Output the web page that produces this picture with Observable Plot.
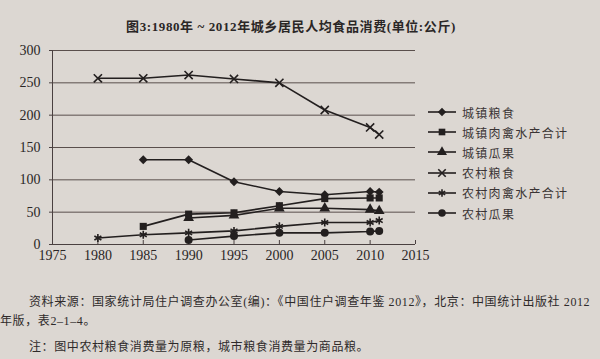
<!DOCTYPE html>
<html><head><meta charset="utf-8">
<script src="https://cdn.jsdelivr.net/npm/d3@7"></script>
<script src="https://cdn.jsdelivr.net/npm/@observablehq/plot@0.6"></script>
<style>
html,body{margin:0;padding:0;}
body{width:600px;height:359px;background:#dcd7d2;position:relative;overflow:hidden;font-family:"Liberation Serif","Noto Sans CJK SC",serif;color:#2a2626;}
#title{position:absolute;left:0;top:18px;width:582px;text-align:center;font-size:13px;font-weight:bold;white-space:nowrap;line-height:18px;letter-spacing:0.6px;}
#chart{position:absolute;left:0;top:40px;}
#legend{position:absolute;left:428px;top:102px;}
.row{display:flex;align-items:center;height:20.2px;}
.row span{margin-left:6px;font-family:"Noto Sans CJK SC",sans-serif;font-size:12px;letter-spacing:1.3px;color:#3a3434;}
.cap{position:absolute;white-space:nowrap;font-size:12px;line-height:16px;letter-spacing:0.6px;color:#2e2a2a;}
</style></head>
<body>
<div id="title"></div>
<div id="chart"></div>
<div id="legend"></div>
<div class="cap" id="c1" style="left:29px;top:294px;"></div>
<div class="cap" id="c2" style="left:0px;top:313px;"></div>
<div class="cap" id="c3" style="left:29px;top:339px;"></div>
<script>
const titleText = "图3:1980年 ~ 2012年城乡居民人均食品消费(单位:公斤)";
const captionLines = [
  "资料来源：国家统计局住户调查办公室(编)：《中国住户调查年鉴 2012》，北京：中国统计出版社 2012",
  "年版，表2–1–4。",
  "注：图中农村粮食消费量为原粮，城市粮食消费量为商品粮。"
];
const years = [1980, 1985, 1990, 1995, 2000, 2005, 2010, 2011];
const seriesNames = ["城镇粮食", "城镇肉禽水产合计", "城镇瓜果", "农村粮食", "农村肉禽水产合计", "农村瓜果"];
const seriesSymbols = ["diamond2", "square", "triangle", "times", "asterisk", "circle"];
const urbanGrain = [null, 131, 131, 97, 82, 77, 82, 81];
const urbanMeat  = [null, 28, 47, 49, 60, 71, 72, 72];
const urbanFruit = [null, null, 41, 45, 56, 56, 54, 52];
const ruralGrain = [257, 257, 262, 256, 250, 208, 181, 170];
const ruralMeat  = [10, 15, 18, 21, 28, 34, 34, 37];
const ruralFruit = [null, null, 7, 13, 18, 18, 20, 21];
const xTicks = [1975, 1980, 1985, 1990, 1995, 2000, 2005, 2010, 2015];
const yTicks = [0, 50, 100, 150, 200, 250, 300];

const seriesValues = [urbanGrain, urbanMeat, urbanFruit, ruralGrain, ruralMeat, ruralFruit];
const rows = [];
seriesValues.forEach((vals, i) => {
  vals.forEach((v, j) => { if (v != null) rows.push({series: seriesNames[i], symbol: seriesSymbols[i], year: years[j], value: v}); });
});

document.getElementById("title").textContent = titleText;
["c1","c2","c3"].forEach((id, i) => document.getElementById(id).textContent = captionLines[i]);

const ink = "#231f1f";
const filled = new Set(["diamond2", "square", "triangle", "circle"]);
const symMap = {diamond2: d3.symbolDiamond2, square: d3.symbolSquare, triangle: d3.symbolTriangle, times: d3.symbolTimes, asterisk: d3.symbolAsterisk, circle: d3.symbolCircle};

const chart = Plot.plot({
  width: 600, height: 230,
  marginLeft: 52, marginRight: 185, marginTop: 10, marginBottom: 26,
  style: {background: "transparent", fontFamily: "Liberation Serif, serif", fontSize: "14px", color: "#2a2626"},
  x: {domain: [1975, 2015]},
  y: {domain: [0, 300]},
  marks: [
    Plot.ruleY(yTicks.filter(d => d > 0), {stroke: "#5a4f4c", strokeWidth: 1}),
    Plot.ruleY([0], {stroke: "#4a4040", strokeWidth: 1}),
    Plot.ruleX([1975], {stroke: "#4a4040", strokeWidth: 1}),
    Plot.axisY({ticks: yTicks, tickSize: 3, tickPadding: 9, stroke: "#4a4040", label: null}),
    Plot.axisX({ticks: xTicks, tickSize: -4, tickPadding: 10, tickFormat: d => String(d), stroke: "#4a4040", label: null}),
    Plot.line(rows, {x: "year", y: "value", z: "series", stroke: ink, strokeWidth: 1.6}),
    Plot.dot(rows.filter(d => filled.has(d.symbol)), {x: "year", y: "value", symbol: "symbol", r: 4, fill: ink, stroke: "none"}),
    Plot.dot(rows.filter(d => !filled.has(d.symbol)), {x: "year", y: "value", symbol: "symbol", r: 3.8, stroke: ink, strokeWidth: 1.6, fill: "none"})
  ],
  symbol: {type: "identity"}
});
document.getElementById("chart").appendChild(chart);

const legend = document.getElementById("legend");
seriesNames.forEach((name, i) => {
  const row = document.createElement("div");
  row.className = "row";
  const svg = d3.create("svg").attr("width", 28).attr("height", 12);
  svg.append("line").attr("x1", 0).attr("x2", 28).attr("y1", 6).attr("y2", 6).attr("stroke", ink).attr("stroke-width", 1.6);
  const sym = seriesSymbols[i];
  const p = svg.append("path").attr("transform", "translate(14,6)")
    .attr("d", d3.symbol(symMap[sym], (filled.has(sym) ? 14 : 12) * Math.PI)());
  if (filled.has(sym)) p.attr("fill", ink); else p.attr("fill", "none").attr("stroke", ink).attr("stroke-width", 1.6);
  row.appendChild(svg.node());
  const t = document.createElement("span");
  t.textContent = name;
  row.appendChild(t);
  legend.appendChild(row);
});
</script>
</body></html>
